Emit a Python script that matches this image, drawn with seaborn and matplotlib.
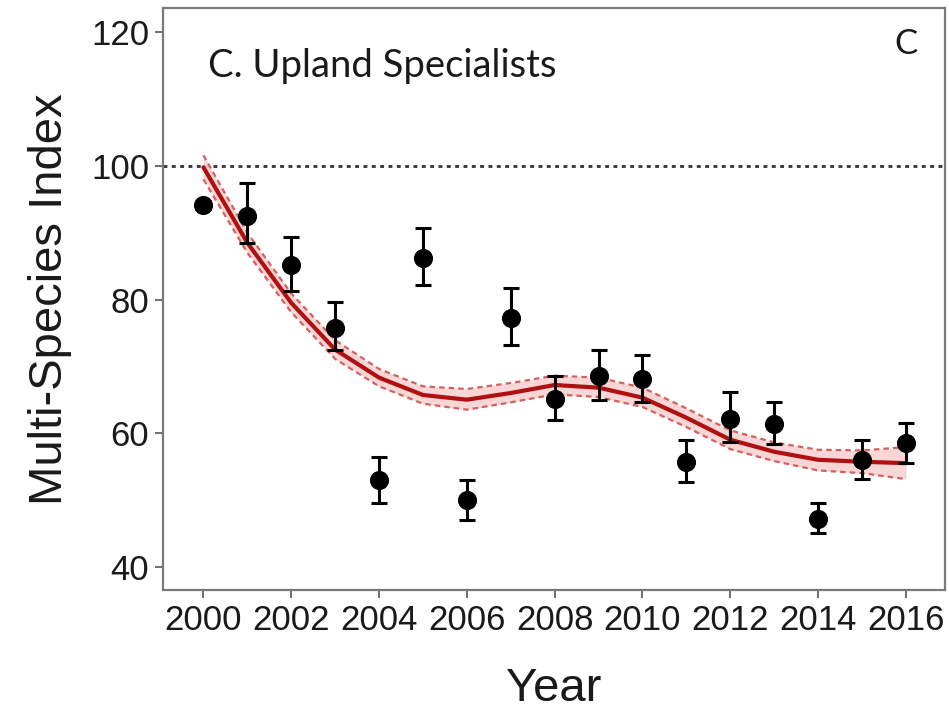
import matplotlib
matplotlib.use("Agg")
import matplotlib.pyplot as plt
import numpy as np
import pandas as pd
import seaborn as sns

# -------- data --------
years = list(range(2000, 2017))
msi = [94.1, 92.5, 85.2, 75.8, 53.0, 86.2, 50.0, 77.2, 65.1, 68.5,
       68.1, 55.7, 62.1, 61.4, 47.1, 56.0, 58.5]
msi_upper = [94.6, 97.5, 89.3, 79.7, 56.4, 90.7, 53.0, 81.7, 68.6, 72.5,
             71.7, 58.9, 66.1, 64.7, 49.5, 58.9, 61.5]
msi_lower = [93.6, 88.5, 81.2, 72.5, 49.5, 82.1, 47.0, 73.2, 61.9, 65.0,
             64.7, 52.7, 58.7, 58.3, 45.0, 53.1, 55.5]

trend = [99.8, 88.5, 79.5, 72.5, 68.3, 65.7, 65.0, 66.0, 67.2, 66.8,
         65.3, 62.3, 59.0, 57.2, 56.0, 55.7, 55.5]
trend_upper = [101.6, 90.0, 80.9, 73.9, 69.6, 67.0, 66.6, 67.5, 68.6, 68.3,
               66.8, 63.7, 60.4, 58.6, 57.5, 57.4, 57.9]
trend_lower = [98.0, 87.0, 78.1, 71.1, 67.0, 64.4, 63.5, 64.6, 65.8, 65.4,
               63.9, 60.9, 57.6, 55.8, 54.4, 54.0, 53.1]

x_ticks = [2000, 2002, 2004, 2006, 2008, 2010, 2012, 2014, 2016]
y_ticks = [40, 60, 80, 100, 120]

df = pd.DataFrame({"Year": years, "MSI": msi, "lo": msi_lower, "hi": msi_upper,
                   "trend": trend, "t_lo": trend_lower, "t_hi": trend_upper})

# -------- plotting --------
sns.set_theme(style="white")
plt.rcParams["font.family"] = ["Liberation Sans", "DejaVu Sans"]

fig = plt.figure(figsize=(9.49, 7.11), dpi=100)
ax = fig.add_axes([0.1718, 0.1702, 0.824, 0.8185])

# reference line at 100
ax.axhline(100, color="#333333", linestyle=(0, (1.4, 1.6)), linewidth=2.0, zorder=1)

# smoothed trend with confidence band
ax.fill_between(df["Year"], df["t_lo"], df["t_hi"], color="#f8d2d2", alpha=0.9,
                linewidth=0, zorder=2)
sns.lineplot(data=df, x="Year", y="t_hi", ax=ax, color="#d46060",
             linestyle=(0, (2.5, 1.8)), linewidth=1.6, zorder=3)
sns.lineplot(data=df, x="Year", y="t_lo", ax=ax, color="#d46060",
             linestyle=(0, (2.5, 1.8)), linewidth=1.6, zorder=3)
sns.lineplot(data=df, x="Year", y="trend", ax=ax, color="#b01010",
             linewidth=3.0, zorder=4)

# yearly indices with error bars
ax.errorbar(df["Year"], df["MSI"],
            yerr=[df["MSI"] - df["lo"], df["hi"] - df["MSI"]],
            fmt="none", ecolor="black", elinewidth=2.2, capsize=5.5, capthick=2.2,
            zorder=5)
sns.scatterplot(data=df, x="Year", y="MSI", ax=ax, color="black", s=190,
                edgecolor="black", linewidth=0, zorder=6)

ax.set_xlim(1999.08, 2016.89)
ax.set_ylim(36.5, 123.65)
ax.set_xticks(x_ticks)
ax.set_yticks(y_ticks)
ax.tick_params(axis="both", which="major", labelsize=25, length=6, width=1.2,
               color="#555555", labelcolor="#1a1a1a", direction="out",
               bottom=True, left=True, pad=4)
ax.set_xlabel("Year", fontsize=34, labelpad=22, color="#1a1a1a")
ax.set_ylabel("Multi-Species Index", fontsize=34, labelpad=14, color="#1a1a1a")

for side in ax.spines.values():
    side.set_color("#7a7a7a")
    side.set_linewidth(1.6)

ax.text(0.057, 0.900, "C. Upland Specialists", transform=ax.transAxes,
        fontsize=27.5, family=["Lato", "DejaVu Sans"], color="#1a1a1a",
        ha="left", va="center")
ax.text(0.950, 0.938, "C", transform=ax.transAxes, fontsize=25,
        family=["Lato", "DejaVu Sans"], color="#1a1a1a", ha="center", va="center")

plt.savefig("out.png", dpi=100)
